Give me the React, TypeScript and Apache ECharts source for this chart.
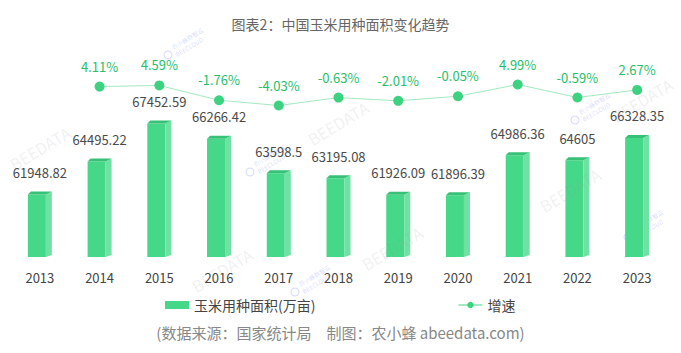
import React, { useEffect, useRef } from "react";
import * as echarts from "echarts";

const years = ["2013", "2014", "2015", "2016", "2017", "2018", "2019", "2020", "2021", "2022", "2023"];
const area = [61948.82, 64495.22, 67452.59, 66266.42, 63598.5, 63195.08, 61926.09, 61896.39, 64986.36, 64605, 66328.35];
const growth = [null, 4.11, 4.59, -1.76, -4.03, -0.63, -2.01, -0.05, 4.99, -0.59, 2.67];

const AREA_MIN = 57100;
const AREA_MAX = 72371;
const RATE_MIN = -69;
const RATE_MAX = 15.5;

const FONT = "'Noto Sans CJK SC', 'Noto Sans', sans-serif";

const FRONT = "#46d889";
const SIDE = "#6fe2a3";
const TOP = "#37c177";

function watermark(x: number, y: number, text: string, size = 16) {
  return {
    type: "text",
    x,
    y,
    rotation: (31 * Math.PI) / 180,
    z: 100,
    silent: true,
    style: {
      text,
      fontSize: size,
      fontFamily: FONT,
      fill: "rgba(150,150,150,0.14)",
      align: "center",
      verticalAlign: "middle",
    },
  };
}

function logo(x: number, y: number) {
  const col = "rgba(90,110,230,0.25)";
  return {
    type: "group",
    x,
    y,
    rotation: (31 * Math.PI) / 180,
    z: 100,
    silent: true,
    children: [
      {
        type: "circle",
        shape: { cx: 0, cy: 0, r: 4 },
        style: { fill: "none", stroke: col, lineWidth: 1 },
      },
      {
        type: "text",
        x: 7,
        y: -4,
        style: { text: "农小蜂数智云", fontSize: 6, fontFamily: FONT, fill: col, verticalAlign: "middle" },
      },
      {
        type: "text",
        x: 7,
        y: 4,
        style: { text: "BEECLOUD", fontSize: 6, fontFamily: FONT, fill: col, verticalAlign: "middle" },
      },
    ],
  };
}

export default function App() {
  const ref = useRef<HTMLDivElement>(null);

  useEffect(() => {
    if (!ref.current) return;
    const chart = echarts.init(ref.current, undefined, { renderer: "svg" });

    const renderItem = (params: any, api: any) => {
      const idx = api.value(0);
      const val = api.value(1);
      const topPt = api.coord([idx, val]);
      const basePt = api.coord([idx, AREA_MIN]);
      const c = topPt[0];
      const t = topPt[1];
      const b = basePt[1];
      return {
        type: "group",
        children: [
          {
            type: "polygon",
            shape: { points: [[c - 12, t], [c + 6, t], [c + 6, b], [c - 12, b]] },
            style: { fill: FRONT },
          },
          {
            type: "polygon",
            shape: { points: [[c + 6, t], [c + 12, t - 3], [c + 12, b - 2], [c + 6, b]] },
            style: { fill: SIDE },
          },
          {
            type: "polygon",
            shape: { points: [[c - 12, t], [c - 9, t - 3], [c + 12, t - 3], [c + 6, t]] },
            style: { fill: TOP },
          },
          {
            type: "text",
            x: c,
            y: t - 22,
            style: {
              text: String(val),
              fontSize: 13,
              fontFamily: FONT,
              fill: "#4a4a4a",
              align: "center",
              verticalAlign: "middle",
            },
          },
        ],
      };
    };

    chart.setOption({
      animation: false,
      textStyle: { fontFamily: FONT },
      title: [
        {
          text: "图表2：中国玉米用种面积变化趋势",
          left: "center",
          top: 12,
          textStyle: { fontSize: 14, color: "#666", fontWeight: "normal", fontFamily: FONT },
        },
        {
          text: "(数据来源：国家统计局　制图：农小蜂 abeedata.com)",
          left: "center",
          top: 320,
          textStyle: { fontSize: 15, color: "#888", fontWeight: "normal", fontFamily: FONT },
        },
      ],
      legend: {
        left: 160,
        top: 293,
        itemGap: 142,
        itemWidth: 24,
        itemHeight: 8,
        textStyle: { fontSize: 14, color: "#444", fontFamily: FONT },
        data: [
          { name: "玉米用种面积(万亩)", icon: "rect" },
          { name: "增速" },
        ],
      },
      grid: { left: 10, right: 14, top: 60, bottom: 96, containLabel: false },
      xAxis: {
        type: "category",
        data: years,
        axisLine: { show: false },
        axisTick: { show: false },
        axisLabel: { color: "#444", fontSize: 13, margin: 14, fontFamily: FONT },
      },
      yAxis: [
        { type: "value", min: AREA_MIN, max: AREA_MAX, show: false, splitLine: { show: false } },
        { type: "value", min: RATE_MIN, max: RATE_MAX, show: false, splitLine: { show: false } },
      ],
      series: [
        {
          name: "玉米用种面积(万亩)",
          type: "custom",
          renderItem,
          itemStyle: { color: FRONT },
          encode: { x: 0, y: 1 },
          data: area.map((v, i) => [i, v]),
          z: 2,
        },
        {
          name: "增速",
          type: "line",
          yAxisIndex: 1,
          data: growth,
          symbol: "circle",
          symbolSize: 10,
          connectNulls: false,
          lineStyle: { color: "#a4e8c0", width: 1 },
          itemStyle: { color: "#3dd27f" },
          label: {
            show: true,
            position: "top",
            distance: 9,
            color: "#27c06a",
            fontSize: 13,
            fontFamily: FONT,
            formatter: (p: any) => `${p.value}%`,
          },
          z: 3,
        },
      ],
      graphic: [
        watermark(40, 148, "BEEDATA"),
        watermark(222, 270, "BEEDATA"),
        watermark(392, 248, "BEEDATA"),
        watermark(338, 123, "BEEDATA"),
        watermark(642, 100, "BEEDATA"),
        watermark(570, 190, "BEEDATA"),
        logo(168, 55),
        logo(250, 172),
        logo(575, 120),
        logo(295, 292),
        logo(628, 237),
      ],
    });

    return () => chart.dispose();
  }, []);

  return (
    <div
      ref={ref}
      style={{ position: "fixed", left: 0, top: 0, width: 681, height: 353, background: "#fff" }}
    />
  );
}
